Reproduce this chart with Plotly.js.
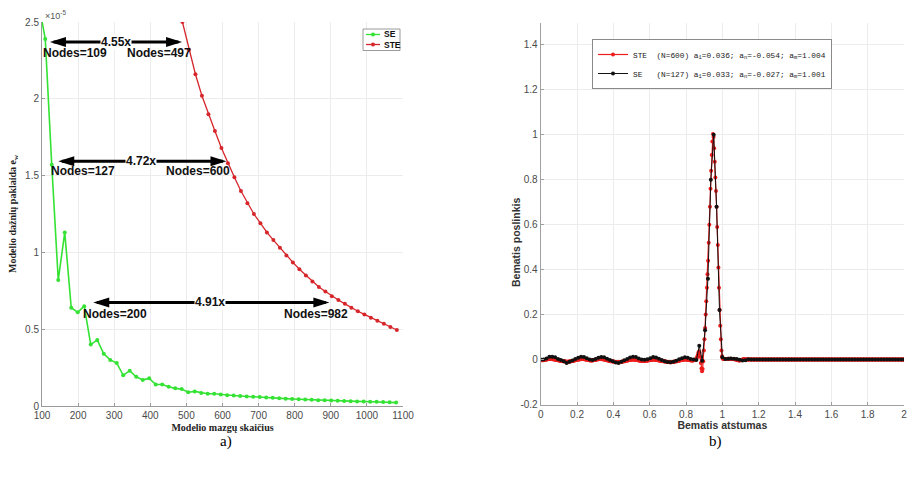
<!DOCTYPE html>
<html>
<head>
<meta charset="utf-8">
<script src="https://cdn.plot.ly/plotly-3.0.1.min.js"></script>
<style>
  html, body { margin: 0; padding: 0; background: #ffffff; }
  #chart { width: 907px; height: 479px; }
</style>
</head>
<body>
<div id="chart"></div>
<script>
// ---- (a) frequency error vs. number of model nodes (values in units of 1e-5) ----
const seNodes = [91,109,127,145,163,181,199,217,235,253,271,289,307,325,343,361,379,397,415,433,
  451,469,487,505,523,541,559,577,595,613,631,649,667,685,703,721,739,757,775,793,
  811,829,847,865,883,901,919,937,955,973,991,1009,1027,1045,1063,1081];
const seErr = [2.62,2.39,1.57,0.82,1.13,0.64,0.61,0.65,0.40,0.43,0.34,0.30,0.28,0.20,0.23,0.19,0.17,0.18,0.14,0.14,
  0.125,0.115,0.11,0.09,0.095,0.085,0.08,0.08,0.075,0.07,0.068,0.065,0.062,0.06,0.058,0.055,0.053,0.05,0.048,0.046,
  0.044,0.042,0.040,0.038,0.037,0.035,0.034,0.032,0.031,0.030,0.029,0.028,0.027,0.026,0.024,0.022];

const steNodes = [489,507,525,543,561,579,597,615,633,651,669,687,705,723,741,759,777,795,813,831,
  849,867,885,903,921,939,957,975,993,1011,1029,1047,1065,1083];
const steErr = [2.50,2.32,2.16,2.02,1.90,1.79,1.68,1.58,1.49,1.40,1.32,1.25,1.19,1.13,1.08,1.03,0.98,0.935,0.89,0.85,
  0.81,0.775,0.745,0.715,0.69,0.665,0.64,0.617,0.596,0.575,0.555,0.535,0.515,0.495];

const seriesNamesA = ['SE', 'STE'];

// node-count comparison arrows: span ends, level, ratio text, end labels
const arrowSpans = [[122, 488], [145, 611], [242, 896]];
const arrowLevels = [2.37, 1.593, 0.674];
const ratioText = ['4.55x', '4.72x', '4.91x'];
const ratioX = [305, 374, 565];
const nodeText = [['Nodes=109', 'Nodes=497'], ['Nodes=127', 'Nodes=600'], ['Nodes=200', 'Nodes=982']];
const nodeTextX = [[191, 423], [214, 533], [302, 858]];
const nodeTextY = [2.30, 1.532, 0.602];

// ---- (b) dimensionless displacement along dimensionless distance ----
const steDisp = [
  -0.002,-0.002,-0.003,-0.003,-0.003,-0.002,-0.002,-0.001,-0.001,0.000,0.000,0.001,0.001,0.002,0.002,
  0.002,0.002,0.002,0.002,0.001,0.001,0.001,0.000,0.000,-0.001,-0.001,-0.002,-0.002,-0.003,-0.003,
  -0.004,-0.004,-0.005,-0.005,-0.006,-0.006,-0.007,-0.007,-0.008,-0.008,-0.009,-0.009,-0.010,-0.010,-0.010,
  -0.010,-0.010,-0.009,-0.009,-0.008,-0.008,-0.007,-0.006,-0.006,-0.005,-0.004,-0.004,-0.003,-0.002,-0.002,
  -0.001,-0.001,0.000,0.000,0.001,0.001,0.001,0.002,0.002,0.002,0.002,0.001,0.001,0.001,0.000,
  0.000,-0.001,-0.001,-0.002,-0.002,-0.003,-0.003,-0.004,-0.004,-0.004,-0.004,-0.003,-0.003,-0.002,-0.002,
  -0.001,-0.001,0.000,0.000,0.001,0.001,0.001,0.002,0.002,0.002,0.002,0.001,0.001,0.001,0.000,
  0.000,-0.001,-0.001,-0.002,-0.003,-0.003,-0.004,-0.005,-0.005,-0.006,-0.007,-0.007,-0.008,-0.008,-0.009,
  -0.009,-0.010,-0.010,-0.011,-0.011,-0.012,-0.012,-0.012,-0.012,-0.012,-0.012,-0.011,-0.011,-0.010,-0.010,
  -0.009,-0.009,-0.008,-0.007,-0.007,-0.006,-0.005,-0.005,-0.004,-0.003,-0.003,-0.002,-0.002,-0.001,-0.001,
  0.000,0.000,0.000,0.000,0.000,-0.001,-0.001,-0.001,-0.002,-0.002,-0.003,-0.003,-0.004,-0.004,-0.005,
  -0.005,-0.006,-0.006,-0.006,-0.006,-0.006,-0.006,-0.006,-0.005,-0.005,-0.005,-0.004,-0.004,-0.003,-0.003,
  -0.002,-0.002,-0.001,-0.001,-0.001,0.000,0.000,0.000,-0.001,-0.001,-0.001,-0.002,-0.002,-0.003,-0.003,
  -0.004,-0.004,-0.005,-0.005,-0.006,-0.006,-0.007,-0.007,-0.008,-0.008,-0.009,-0.009,-0.010,-0.010,-0.011,
  -0.011,-0.011,-0.012,-0.012,-0.012,-0.012,-0.012,-0.011,-0.011,-0.010,-0.010,-0.009,-0.009,-0.008,-0.007,
  -0.007,-0.006,-0.005,-0.005,-0.004,-0.003,-0.003,-0.002,-0.002,-0.001,-0.001,0.000,0.000,0.000,0.000,
  0.000,0.000,-0.001,-0.001,-0.002,-0.002,-0.003,-0.003,-0.004,-0.004,-0.004,-0.004,-0.003,-0.003,-0.002,
  // pulse
  -0.001,0.002,0.006,0.012,0.020,0.030,0.036,0.030,0.012,-0.015,-0.040,-0.052,-0.042,-0.008,0.040,
  0.090,0.140,0.200,0.260,0.320,0.380,0.440,0.520,0.600,0.680,0.760,0.840,0.910,0.970,1.004,
  0.990,0.940,0.880,0.810,0.750,0.680,0.590,0.510,0.410,0.320,0.220,0.150,0.090,0.040,0.015,0.005,
  0.003,0.002,0.002,0.002,0.003,0.003,0.003,0.003,0.004,0.004,
  0.004,0.004,0.004,0.003,0.003,0.003,0.002,0.002,0.001,0.001,
  0.000,0.000,-0.001,-0.002,-0.003,-0.003,-0.004,-0.004,-0.003,-0.003,
  -0.002,-0.001,0.000,0.001,0.001,0.001,0.001,0.000,0.000,0.000,
  0.000,0.000,0.000,0.000,0.000,
  // undisturbed part
  0,0,0,0,0,0,0,0,0,0,0,0,0,0,0,0,0,0,0,0,0,0,0,0,0,0,0,0,0,0,0,0,0,0,0,0,0,0,0,0,0,0,0,0,0,0,0,0,0,0,
  0,0,0,0,0,0,0,0,0,0,0,0,0,0,0,0,0,0,0,0,0,0,0,0,0,0,0,0,0,0,0,0,0,0,0,0,0,0,0,0,0,0,0,0,0,0,0,0,0,0,
  0,0,0,0,0,0,0,0,0,0,0,0,0,0,0,0,0,0,0,0,0,0,0,0,0,0,0,0,0,0,0,0,0,0,0,0,0,0,0,0,0,0,0,0,0,0,0,0,0,0,
  0,0,0,0,0,0,0,0,0,0,0,0,0,0,0,0,0,0,0,0,0,0,0,0,0,0,0,0,0,0,0,0,0,0,0,0,0,0,0,0,0,0,0,0,0,0,0,0,0,0,
  0,0,0,0,0,0,0,0,0,0,0,0,0,0,0,0,0,0,0,0,0,0,0,0,0,0,0,0,0,0,0,0,0,0,0,0,0,0,0,0,0,0,0,0,0,0,0,0,0,0,
  0,0,0,0
];
const seDisp = [
  0,0,0.005,0.012,0.012,0.01,0.003,-0.002,-0.008,-0.015,
  -0.01,-0.004,0.002,0.008,0.012,0.011,0.006,0.0,-0.002,0.003,
  0.008,0.011,0.01,0.004,-0.002,-0.008,-0.013,-0.015,-0.01,-0.003,
  0.003,0.009,0.012,0.011,0.005,0.0,-0.001,0.001,0.006,0.011,
  0.009,0.004,-0.002,-0.007,-0.011,-0.012,-0.01,-0.005,0.001,0.006,
  0.01,0.008,0.003,0.0,-0.002,
  0.062,-0.005,0.13,0.36,0.80,1.001,0.68,0.22,0.01,0.003,0.004,0.005,0.004,0.002,-0.001,-0.004,-0.003,0.001,
  0,0,0,0,0,0,0,0,0,0,0,0,0,0,0,0,0,0,0,0,0,0,0,0,0,0,0,0,0,0,0,0,0,0,0,0,0,0,0,0,0,0,0,0,0,0,0,0,0,0,0,0,0,0
];
// nodes are spread uniformly over the dimensionless length [0, 2]
const steX = steDisp.map((_, j) => 2 * j / (steDisp.length - 1));
const seX = seDisp.map((_, i) => 2 * i / (seDisp.length - 1));

const legendSTE = 'STE\u00a0\u00a0(N=600) a<sub>1</sub>=0.036; a<sub>n</sub>=-0.054; a<sub>m</sub>=1.004';
const legendSE = 'SE\u00a0\u00a0\u00a0(N=127) a<sub>1</sub>=0.033; a<sub>n</sub>=-0.027; a<sub>m</sub>=1.001';

const rightXTicks = [0, 0.2, 0.4, 0.6, 0.8, 1, 1.2, 1.4, 1.6, 1.8, 2];
const rightXText = ['0', '0.2', '0.4', '0.6', '0.8', '1', '1.2', '1.4', '1.6', '1.8', '2'];
const rightYTicks = [-0.2, 0, 0.2, 0.4, 0.6, 0.8, 1, 1.2, 1.4];
const rightYText = ['-0.2', '0', '0.2', '0.4', '0.6', '0.8', '1', '1.2', '1.4'];

const green = '#34e234';
const redA = '#d6262b';
const redB = '#ee1c1c';
const tickFont = { family: 'Liberation Sans, Arial, sans-serif', size: 10, color: '#4a4a4a' };
const serifTitle = { family: 'Liberation Serif, Times New Roman, serif', size: 10, color: '#222' };
const calloutFont = { family: 'Liberation Sans, Arial, sans-serif', size: 12, color: '#111', weight: 'bold' };

const traces = [
  { x: seNodes, y: seErr, name: seriesNamesA[0], type: 'scatter', mode: 'lines+markers',
    line: { color: green, width: 1.6 }, marker: { color: green, size: 4 },
    xaxis: 'x', yaxis: 'y', showlegend: false },
  { x: steNodes, y: steErr, name: seriesNamesA[1], type: 'scatter', mode: 'lines+markers',
    line: { color: redA, width: 1.3 }, marker: { color: redA, size: 4 },
    xaxis: 'x', yaxis: 'y', showlegend: false },
  { x: steX, y: steDisp, name: legendSTE, type: 'scatter', mode: 'lines+markers',
    line: { color: redB, width: 1.2 }, marker: { color: redB, size: 4 },
    xaxis: 'x2', yaxis: 'y2', legend: 'legend2' },
  { x: seX, y: seDisp, name: legendSE, type: 'scatter', mode: 'lines+markers',
    line: { color: '#111', width: 1 }, marker: { color: '#111', size: 4 },
    xaxis: 'x2', yaxis: 'y2', legend: 'legend2' }
];

const shapes = [];
const annotations = [];
arrowSpans.forEach((span, k) => {
  const yv = arrowLevels[k];
  shapes.push({ type: 'line', xref: 'x', yref: 'y', x0: span[0] + 10, x1: span[1] - 10, y0: yv, y1: yv,
    line: { color: '#000', width: 3 } });
  // filled arrow heads, sized in pixels and anchored at the span ends
  shapes.push({ type: 'path', xref: 'x', yref: 'y', xsizemode: 'pixel', ysizemode: 'pixel',
    xanchor: span[0], yanchor: yv, path: 'M0,0 L16,5 L16,-5 Z',
    fillcolor: '#000', line: { width: 0 } });
  shapes.push({ type: 'path', xref: 'x', yref: 'y', xsizemode: 'pixel', ysizemode: 'pixel',
    xanchor: span[1], yanchor: yv, path: 'M0,0 L-16,5 L-16,-5 Z',
    fillcolor: '#000', line: { width: 0 } });
  annotations.push({ xref: 'x', yref: 'y', x: ratioX[k], y: yv, text: ratioText[k], showarrow: false,
    font: calloutFont, bgcolor: '#ffffff', borderpad: 0 });
  nodeText[k].forEach((t, m) => {
    annotations.push({ xref: 'x', yref: 'y', x: nodeTextX[k][m], y: nodeTextY[k], text: t,
      showarrow: false, font: calloutFont });
  });
});

// compact key for panel (a): framed box with a short line + dot per series
const px = v => v / 907;
const py = v => 1 - v / 479;
const keyColors = [green, redA];
const keyRows = [34.5, 44.5];
shapes.push({ type: 'rect', xref: 'paper', yref: 'paper', x0: px(363), x1: px(400), y0: py(29), y1: py(50.5),
  fillcolor: '#ffffff', line: { color: '#9a9a9a', width: 1 } });
seriesNamesA.forEach((nm, k) => {
  shapes.push({ type: 'line', xref: 'paper', yref: 'paper', x0: px(366), x1: px(380),
    y0: py(keyRows[k]), y1: py(keyRows[k]), line: { color: keyColors[k], width: 1.3 } });
  shapes.push({ type: 'circle', xref: 'paper', yref: 'paper', xsizemode: 'pixel', ysizemode: 'pixel',
    xanchor: px(373), yanchor: py(keyRows[k]), x0: -2, x1: 2, y0: -2, y1: 2,
    fillcolor: keyColors[k], line: { width: 0 } });
  annotations.push({ xref: 'paper', yref: 'paper', x: px(381.5), y: py(keyRows[k]), xanchor: 'left',
    yanchor: 'middle', text: nm, showarrow: false,
    font: { family: 'Liberation Sans, Arial, sans-serif', size: 8.5, color: '#111', weight: 'bold' } });
});

annotations.push(
  { xref: 'paper', yref: 'paper', x: px(43), y: py(15), xanchor: 'left', yanchor: 'middle',
    text: '\u00d710<sup>-5</sup>', showarrow: false,
    font: { family: 'Liberation Sans, Arial, sans-serif', size: 9, color: '#555' } },
  { xref: 'paper', yref: 'paper', x: px(516), y: py(243), xanchor: 'center', yanchor: 'middle',
    text: 'Bematis poslinkis', textangle: -90, showarrow: false,
    font: { family: 'Liberation Sans, Arial, sans-serif', size: 10.5, color: '#333', weight: 'bold' } },
  { xref: 'paper', yref: 'paper', x: px(226), y: py(441), xanchor: 'center', yanchor: 'middle',
    text: 'a)', showarrow: false,
    font: { family: 'Liberation Serif, Times New Roman, serif', size: 15, color: '#000' } },
  { xref: 'paper', yref: 'paper', x: px(715), y: py(441), xanchor: 'center', yanchor: 'middle',
    text: 'b)', showarrow: false,
    font: { family: 'Liberation Serif, Times New Roman, serif', size: 15, color: '#000' } }
);

const gridColor = '#ececec';
const layout = {
  width: 907, height: 479,
  margin: { l: 0, r: 0, t: 0, b: 0 },
  paper_bgcolor: '#ffffff', plot_bgcolor: '#ffffff',
  showlegend: true,
  xaxis: {
    domain: [px(42), px(403)], range: [100, 1100], dtick: 100, tick0: 100,
    showgrid: true, gridcolor: gridColor, zeroline: false,
    showline: true, linecolor: '#9a9a9a', linewidth: 1,
    ticks: 'inside', ticklen: 3, tickcolor: '#9a9a9a', tickfont: tickFont, automargin: false,
    ticklabeloverflow: 'allow',
    title: { text: '<b>Modelio mazgų skaičius</b>', font: serifTitle, standoff: 3 }
  },
  yaxis: {
    domain: [(479 - 406) / 479, (479 - 22) / 479], range: [0, 2.5], dtick: 0.5,
    showgrid: true, gridcolor: gridColor, zeroline: false,
    showline: true, linecolor: '#9a9a9a', linewidth: 1,
    ticks: 'inside', ticklen: 3, tickcolor: '#9a9a9a', tickfont: tickFont, automargin: false,
    ticklabeloverflow: 'allow',
    title: { text: '<b>Modelio dažnių paklaida e<sub>w</sub></b>', font: serifTitle, standoff: 6 }
  },
  xaxis2: {
    domain: [px(540.7), px(904)], range: [0, 2], anchor: 'y2',
    tickmode: 'array', tickvals: rightXTicks, ticktext: rightXText,
    showgrid: true, gridcolor: gridColor, zeroline: false,
    showline: true, linecolor: '#a0a0a0', linewidth: 1,
    ticks: 'inside', ticklen: 3, tickcolor: '#a0a0a0', tickfont: tickFont, automargin: false,
    ticklabeloverflow: 'allow',
    title: { text: 'Bematis atstumas',
      font: { family: 'Liberation Sans, Arial, sans-serif', size: 10.5, color: '#333', weight: 'bold' },
      standoff: 3 }
  },
  yaxis2: {
    domain: [(479 - 404.5) / 479, (479 - 22.5) / 479], range: [-0.2, 1.5], anchor: 'x2',
    tickmode: 'array', tickvals: rightYTicks, ticktext: rightYText,
    showgrid: true, gridcolor: gridColor, zeroline: false,
    showline: true, linecolor: '#a0a0a0', linewidth: 1,
    ticks: 'inside', ticklen: 3, tickcolor: '#a0a0a0', tickfont: tickFont, automargin: false,
    ticklabeloverflow: 'allow'
  },
  legend2: {
    x: px(592), y: py(39), xanchor: 'left', yanchor: 'top',
    bgcolor: '#ffffff', bordercolor: '#8a8a8a', borderwidth: 1,
    font: { family: 'Liberation Mono, Courier New, monospace', size: 7.8, color: '#222' },
    itemwidth: 30
  },
  shapes: shapes,
  annotations: annotations
};

Plotly.newPlot('chart', traces, layout, { displayModeBar: false, staticPlot: true });
</script>
</body>
</html>
